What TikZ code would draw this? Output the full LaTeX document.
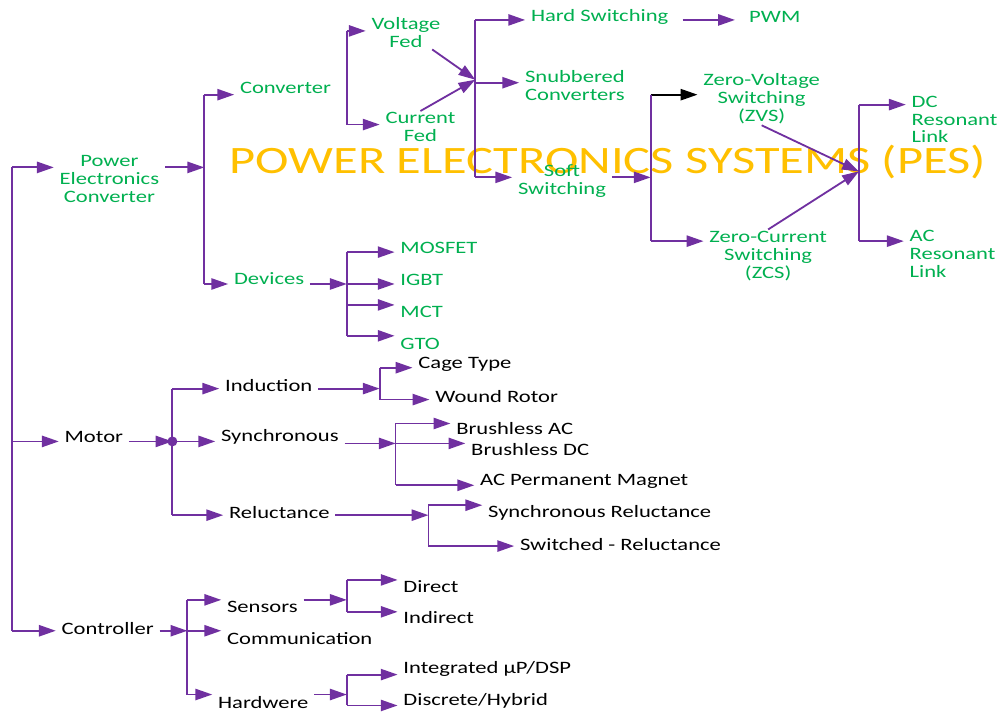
\documentclass[tikz,border=0pt]{standalone}
\usepackage{fontspec}
\setmainfont{Carlito}[FakeStretch=1.3]
\usetikzlibrary{arrows.meta, calc}
\definecolor{pesgreen}{RGB}{0,176,80}
\definecolor{pespurple}{RGB}{112,48,160}
\definecolor{pesorange}{RGB}{255,192,0}
\tikzset{
    lbl/.style={anchor=west, inner xsep=4pt, inner ysep=1pt, yshift=-2pt, align=center, font=\fontsize{12.4}{12.8}\selectfont},
    glbl/.style={lbl, text=pesgreen},
    klbl/.style={lbl, text=black},
    bus/.style={draw=pespurple, line width=1.3pt},
    arr/.style={bus, -{Triangle[length=12pt,width=8pt]}},
}
\begin{document}
\begin{tikzpicture}[x=0.025cm, y=-0.025cm]
    \fill[white] (0,0) rectangle (1003,713);

    % Title
    \node[font=\fontsize{27.7}{30}\selectfont, text=pesorange] (title) at (610,163) {POWER ELECTRONICS SYSTEMS (PES)};

    % Labels
    \node[glbl] (pec) at (54,177) {Power\\Electronics\\Converter};
    \node[klbl] (motor) at (59,436) {Motor};
    \node[klbl] (ctrl) at (56,628) {Controller};

    \node[glbl] (conv) at (235,85) {Converter};
    \node[glbl] (dev) at (229,277) {Devices};
    \node[glbl] (vfed) at (367,30) {Voltage\\Fed};
    \node[glbl] (cfed) at (381,125) {Current\\Fed};
    \node[glbl] (hard) at (527,14) {Hard Switching};
    \node[glbl] (pwm) at (746,14) {PWM};
    \node[glbl] (snub) at (521,83) {Snubbered\\Converters};
    \node[glbl] (soft) at (514,179) {Soft\\Switching};
    \node[glbl] (zvs) at (700,96) {Zero-Voltage\\Switching\\(ZVS)};
    \node[glbl] (zcs) at (706,254) {Zero-Current\\Switching\\(ZCS)};
    \node[glbl, align=left] (dcrl) at (909,117) {DC\\Resonant\\Link};
    \node[glbl, align=left] (acrl) at (907,252) {AC\\Resonant\\Link};
    \node[glbl] (mosfet) at (396,246) {MOSFET};
    \node[glbl] (igbt) at (396,278) {IGBT};
    \node[glbl] (mct) at (396,310) {MCT};
    \node[glbl] (gto) at (396,342) {GTO};

    \node[klbl] (ind) at (220,384) {Induction};
    \node[klbl] (sync) at (216,436) {Synchronous};
    \node[klbl] (rel) at (224,512) {Reluctance};
    \node[klbl] (cage) at (414,363) {Cage Type};
    \node[klbl] (wound) at (431,395) {Wound Rotor};
    \node[klbl] (bac) at (452,427) {Brushless AC};
    \node[klbl] (bdc) at (467,448) {Brushless DC};
    \node[klbl] (acpm) at (476,480) {AC Permanent Magnet};
    \node[klbl] (synrel) at (484,512) {Synchronous Reluctance};
    \node[klbl] (swrel) at (516,544) {Switched - Reluctance};

    \node[klbl] (sens) at (222,606) {Sensors};
    \node[klbl] (comm) at (222,638) {Communication};
    \node[klbl, inner ysep=0pt] (hw) at (213,702) {Hardwere};
    \node[klbl] (direct) at (399,586) {Direct};
    \node[klbl] (indirect) at (399,617) {Indirect};
    \node[klbl] (integ) at (399,669) {Integrated µP/DSP};
    \node[klbl] (discr) at (399,701) {Discrete/Hybrid};

    % Main bus
    \foreach \n/\y in {pec/168, motor/443, ctrl/633} {
        \coordinate (\n-in) at (12,\y);
        \draw[arr] (\n-in) -- (\n-in -| \n.west);
    }
    \draw[bus] (pec-in) -- (ctrl-in);

    % Power electronics converter
    \coordinate (pec-out) at (205,168);
    \draw[arr] (pec.east |- pec-out) -- (pec-out);
    \foreach \n/\y in {conv/95, dev/285} {
        \coordinate (\n-in) at (205,\y);
        \draw[arr] (\n-in) -- (\n-in -| \n.west);
    }
    \draw[bus] (conv-in) -- (dev-in);

    % Converter
    \foreach \n/\y in {vfed/31, cfed/125} {
        \coordinate (\n-in) at (348,\y);
        \draw[arr] (\n-in) -- (\n-in -| \n.west);
    }
    \draw[bus] (vfed-in) -- (cfed-in);
    \coordinate (feed) at (477,80);
    \draw[arr] ([xshift=-10pt]vfed.south east) -- (feed);
    \draw[arr] (cfed.north) -- (feed);
    \foreach \n/\y in {hard/20, snub/83, soft/178} {
        \coordinate (\n-in) at (477,\y);
        \draw[arr] (\n-in) -- (\n-in -| \n.west);
    }
    \draw[bus] (hard-in) -- (soft-in);
    \draw[arr, shorten <=6pt, shorten >=6pt] (hard.east |- hard-in) -- (hard-in -| pwm.west);

    % Soft switching
    \coordinate (soft-out) at (653,178);
    \draw[arr] (soft.east |- soft-out) -- (soft-out);
    \coordinate (zvs-in) at (653,95);
    \coordinate (zcs-in) at (653,242);
    \draw[arr, draw=black] (zvs-in) -- (zvs-in -| zvs.west);
    \draw[arr] (zcs-in) -- (zcs-in -| zcs.west);
    \draw[bus] (zvs-in) -- (zcs-in);
    \coordinate (link) at (862,172);
    \draw[arr] (zvs.south) -- (link);
    \draw[arr] (zcs.north) -- (link);
    \foreach \n/\y in {dcrl/105, acrl/242} {
        \coordinate (\n-in) at (862,\y);
        \draw[arr] (\n-in) -- (\n-in -| \n.west);
    }
    \draw[bus] (dcrl-in) -- (acrl-in);

    % Devices
    \coordinate (dev-out) at (348,285);
    \draw[arr] (dev.east |- dev-out) -- (dev-out);
    \foreach \n/\y in {mosfet/253, igbt/285, mct/306, gto/337} {
        \coordinate (\n-in) at (348,\y);
        \draw[arr] (\n-in) -- (\n-in -| \n.west);
    }
    \draw[bus] (mosfet-in) -- (gto-in);

    % Motor
    \coordinate (motor-out) at (173,443);
    \draw[arr] (motor.east |- motor-out) -- (motor-out);
    \fill[pespurple] (motor-out) circle (5);
    \foreach \n/\y in {ind/390, sync/443, rel/517} {
        \coordinate (\n-in) at (173,\y);
        \draw[arr] (\n-in) -- (\n-in -| \n.west);
    }
    \draw[bus] (ind-in) -- (rel-in);

    \foreach \src/\x/\y in {ind/381/390, sync/397/445, rel/430/517} {
        \coordinate (\src-out) at (\x,\y);
        \draw[arr] (\src.east |- \src-out) -- (\src-out);
    }
    \foreach \n/\x/\y in {cage/381/369, wound/381/401, bac/397/425, bdc/397/445, acpm/397/487, synrel/430/507, swrel/430/548} {
        \coordinate (\n-in) at (\x,\y);
        \draw[arr] (\n-in) -- (\n-in -| \n.west);
    }
    \draw[bus] (cage-in) -- (wound-in);
    \draw[bus] (bac-in) -- (acpm-in);
    \draw[bus] (synrel-in) -- (swrel-in);

    % Controller
    \coordinate (ctrl-out) at (188,633);
    \draw[arr] (ctrl.east |- ctrl-out) -- (ctrl-out);
    \foreach \n/\y in {sens/602, comm/633, hw/697} {
        \coordinate (\n-in) at (188,\y);
        \draw[arr] (\n-in) -- (\n-in -| \n.west);
    }
    \draw[bus] (sens-in) -- (hw-in);

    \foreach \src/\y in {sens/602, hw/697} {
        \coordinate (\src-out) at (348,\y);
        \draw[arr] (\src.east |- \src-out) -- (\src-out);
    }
    \foreach \n/\y in {direct/582, indirect/614, integ/677, discr/708} {
        \coordinate (\n-in) at (348,\y);
        \draw[arr] (\n-in) -- (\n-in -| \n.west);
    }
    \draw[bus] (direct-in) -- (indirect-in);
    \draw[bus] (integ-in) -- (discr-in);
\end{tikzpicture}
\end{document}
